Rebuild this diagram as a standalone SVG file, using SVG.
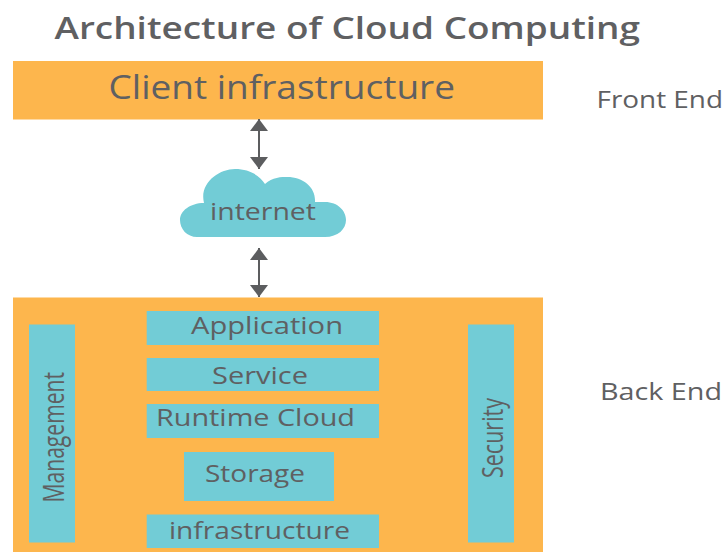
<svg xmlns="http://www.w3.org/2000/svg" width="726" height="552" viewBox="0 0 726 552">
<style>
text{font-family:"Open Sans","Noto Sans",sans-serif;fill:#5f6062;text-anchor:start;font-size:24px}
.o{fill:#fdb64d}.b{fill:#72ccd6}
.c{stroke:#5c5d5f;stroke-width:2;fill:none;marker-start:url(#a);marker-end:url(#a)}
</style>
<defs><marker id="a" markerUnits="userSpaceOnUse" markerWidth="18" markerHeight="18" refX="12" refY="9" orient="auto-start-reverse"><path d="M0 0L12 9L0 18Z" fill="#5c5d5f"/></marker></defs>
<rect width="726" height="552" fill="#fff"/>
<text x="54.500" y="39" style="font-size:31px;font-weight:600" textLength="585.500" lengthAdjust="spacingAndGlyphs">Architecture of Cloud Computing</text>
<g id="client"><rect class="o" x="13" y="61" width="530" height="58.500"/><text x="108.500" y="99" style="font-size:33px" textLength="346.500" lengthAdjust="spacingAndGlyphs">Client infrastructure</text></g>
<g id="front-end"><text x="596.500" y="107.500" textLength="126.500" lengthAdjust="spacingAndGlyphs">Front End</text></g>
<g id="internet"><path class="b" d="M197 237C187 237 180 229 180 220C180 211 190 203 204 203C199 183 219 169 235 169C250 169 260 176 265 184C272 177 282 177 287 177C304 177 316 188 315 202L325 202C338 202 346 211 346 220C346 229 338 237 325 237Z"/><text x="210" y="219.500" textLength="106" lengthAdjust="spacingAndGlyphs">internet</text></g>
<g id="backend"><rect class="o" x="13" y="297.500" width="530" height="254.500"/></g>
<g id="back-end"><text x="600" y="399.500" textLength="122" lengthAdjust="spacingAndGlyphs">Back End</text></g>
<g id="management"><rect class="b" x="29" y="324.500" width="46" height="218"/><text transform="translate(63.500 502.500) rotate(-90)" style="font-size:29px" textLength="130.500" lengthAdjust="spacingAndGlyphs">Management</text></g>
<g id="security"><rect class="b" x="468" y="324.500" width="46" height="218"/><text transform="translate(502.500 478) rotate(-90)" style="font-size:29px" textLength="80" lengthAdjust="spacingAndGlyphs">Security</text></g>
<g id="application"><rect class="b" x="146.700" y="311" width="232.300" height="34"/><text x="191" y="334" textLength="152" lengthAdjust="spacingAndGlyphs">Application</text></g>
<g id="service"><rect class="b" x="146.700" y="358" width="232.300" height="33"/><text x="212" y="384" textLength="96" lengthAdjust="spacingAndGlyphs">Service</text></g>
<g id="runtime"><rect class="b" x="146.700" y="404" width="232.300" height="34"/><text x="156" y="426" textLength="199" lengthAdjust="spacingAndGlyphs">Runtime Cloud</text></g>
<g id="storage"><rect class="b" x="184" y="452" width="150" height="49"/><text x="205" y="481.500" textLength="100" lengthAdjust="spacingAndGlyphs">Storage</text></g>
<g id="infrastructure"><rect class="b" x="146.700" y="514.500" width="232.300" height="33.500"/><text x="169" y="539" textLength="181" lengthAdjust="spacingAndGlyphs">infrastructure</text></g>
<g id="connectors"><line class="c" x1="259" y1="119" x2="259" y2="169"/><line class="c" x1="259" y1="248" x2="259" y2="297"/></g>
</svg>
